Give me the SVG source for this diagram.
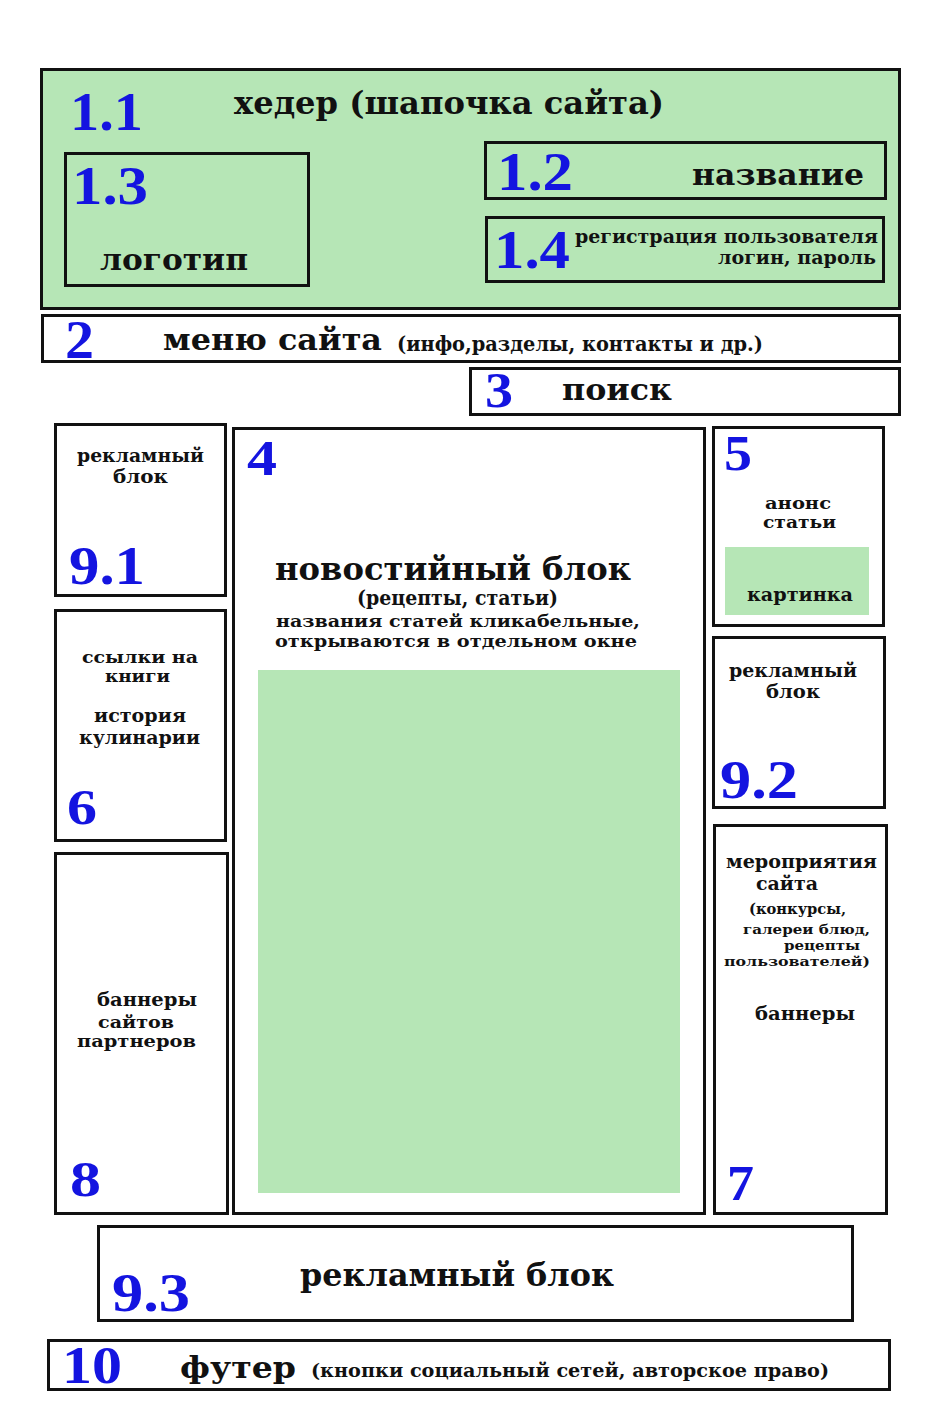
<svg xmlns="http://www.w3.org/2000/svg" width="935" height="1402" viewBox="0 0 935 1402">
<style>
.box{fill:#ffffff;stroke:#111;stroke-width:3}
.gbox{fill:#b6e6b6;stroke:#111;stroke-width:3}
.green{fill:#b6e6b6}
.num{font-family:"Liberation Serif","DejaVu Serif",serif;font-weight:bold;fill:#1414e0}
.t{font-family:"DejaVu Serif","Liberation Serif",serif;font-weight:bold;fill:#111}
</style>
<rect width="935" height="1402" fill="#ffffff"/>
<g id="header">
<rect class="gbox" x="41.5" y="69.5" width="858" height="239"/>
<text class="num" x="70" y="130" font-size="54" textLength="73" lengthAdjust="spacingAndGlyphs">1.1</text>
<text class="t" x="234" y="114" font-size="31" textLength="430" lengthAdjust="spacingAndGlyphs">хедер (шапочка сайта)</text>
</g>
<g id="logo">
<rect class="gbox" x="65.5" y="153.5" width="243" height="132"/>
<text class="num" x="72" y="204" font-size="54" textLength="76" lengthAdjust="spacingAndGlyphs">1.3</text>
<text class="t" x="100" y="270" font-size="30" textLength="148" lengthAdjust="spacingAndGlyphs">логотип</text>
</g>
<g id="name">
<rect class="gbox" x="485.5" y="142.5" width="400" height="56"/>
<text class="num" x="497" y="190" font-size="54" textLength="76" lengthAdjust="spacingAndGlyphs">1.2</text>
<text class="t" x="692" y="185" font-size="30" textLength="172" lengthAdjust="spacingAndGlyphs">название</text>
</g>
<g id="login">
<rect class="gbox" x="486.5" y="217.5" width="397" height="64"/>
<text class="num" x="494" y="268" font-size="54" textLength="76" lengthAdjust="spacingAndGlyphs">1.4</text>
<text class="t" x="575" y="243" font-size="19" textLength="303" lengthAdjust="spacingAndGlyphs">регистрация пользователя</text>
<text class="t" x="876" y="264" font-size="19" text-anchor="end" textLength="158" lengthAdjust="spacingAndGlyphs">логин, пароль</text>
</g>
<g id="menu">
<rect class="box" x="42.5" y="315.5" width="857" height="46"/>
<text class="num" x="65" y="358" font-size="54" textLength="29" lengthAdjust="spacingAndGlyphs">2</text>
<text class="t" x="163" y="350" font-size="30" textLength="219" lengthAdjust="spacingAndGlyphs">меню сайта</text>
<text class="t" x="397" y="351" font-size="20" textLength="366" lengthAdjust="spacingAndGlyphs">(инфо,разделы, контакты и др.)</text>
</g>
<g id="search">
<rect class="box" x="470.5" y="368.5" width="429" height="46"/>
<text class="num" x="485" y="407" font-size="50" textLength="28" lengthAdjust="spacingAndGlyphs">3</text>
<text class="t" x="562" y="400" font-size="30" textLength="110" lengthAdjust="spacingAndGlyphs">поиск</text>
</g>
<g id="ad1">
<rect class="box" x="55.5" y="424.5" width="170" height="171"/>
<text class="t" x="77" y="462" font-size="18" textLength="127" lengthAdjust="spacingAndGlyphs">рекламный</text>
<text class="t" x="113" y="483" font-size="18" textLength="55" lengthAdjust="spacingAndGlyphs">блок</text>
<text class="num" x="69" y="584" font-size="54" textLength="76" lengthAdjust="spacingAndGlyphs">9.1</text>
</g>
<g id="links">
<rect class="box" x="55.5" y="610.5" width="170" height="230"/>
<text class="t" x="82" y="663" font-size="16.5" textLength="116" lengthAdjust="spacingAndGlyphs">ссылки на</text>
<text class="t" x="105" y="682" font-size="16.5" textLength="65" lengthAdjust="spacingAndGlyphs">книги</text>
<text class="t" x="94" y="722" font-size="18" textLength="92" lengthAdjust="spacingAndGlyphs">история</text>
<text class="t" x="79" y="744" font-size="18" textLength="121" lengthAdjust="spacingAndGlyphs">кулинарии</text>
<text class="num" x="67" y="824" font-size="50" textLength="30" lengthAdjust="spacingAndGlyphs">6</text>
</g>
<g id="partners">
<rect class="box" x="55.5" y="853.5" width="172" height="360"/>
<text class="t" x="97" y="1006" font-size="19" textLength="100" lengthAdjust="spacingAndGlyphs">баннеры</text>
<text class="t" x="98" y="1028" font-size="16.5" textLength="76" lengthAdjust="spacingAndGlyphs">сайтов</text>
<text class="t" x="77" y="1047" font-size="16.5" textLength="119" lengthAdjust="spacingAndGlyphs">партнеров</text>
<text class="num" x="70" y="1196" font-size="50" textLength="31" lengthAdjust="spacingAndGlyphs">8</text>
</g>
<g id="news">
<rect class="box" x="233.5" y="428.5" width="471" height="785"/>
<text class="num" x="247" y="475" font-size="50" textLength="30" lengthAdjust="spacingAndGlyphs">4</text>
<text class="t" x="275" y="580" font-size="31" textLength="356" lengthAdjust="spacingAndGlyphs">новостийный блок</text>
<text class="t" x="357" y="605" font-size="20" textLength="201" lengthAdjust="spacingAndGlyphs">(рецепты, статьи)</text>
<text class="t" x="276" y="627" font-size="17" textLength="364" lengthAdjust="spacingAndGlyphs">названия статей кликабельные,</text>
<text class="t" x="275" y="647" font-size="17" textLength="362" lengthAdjust="spacingAndGlyphs">открываются в отдельном окне</text>
<rect class="green" x="258" y="670" width="422" height="523"/>
</g>
<g id="announce">
<rect class="box" x="713.5" y="427.5" width="170" height="198"/>
<text class="num" x="724" y="470" font-size="50" textLength="28" lengthAdjust="spacingAndGlyphs">5</text>
<text class="t" x="765" y="509" font-size="16.5" textLength="66" lengthAdjust="spacingAndGlyphs">анонс</text>
<text class="t" x="763" y="528" font-size="16.5" textLength="73" lengthAdjust="spacingAndGlyphs">статьи</text>
<rect class="green" x="725" y="547" width="144" height="68"/>
<text class="t" x="747" y="601" font-size="19" textLength="106" lengthAdjust="spacingAndGlyphs">картинка</text>
</g>
<g id="ad2">
<rect class="box" x="713.5" y="637.5" width="171" height="170"/>
<text class="t" x="729" y="677" font-size="18" textLength="128" lengthAdjust="spacingAndGlyphs">рекламный</text>
<text class="t" x="766" y="698" font-size="18" textLength="54" lengthAdjust="spacingAndGlyphs">блок</text>
<text class="num" x="720" y="798" font-size="54" textLength="78" lengthAdjust="spacingAndGlyphs">9.2</text>
</g>
<g id="events">
<rect class="box" x="714.5" y="825.5" width="172" height="388"/>
<text class="t" x="726" y="868" font-size="18" textLength="151" lengthAdjust="spacingAndGlyphs">мероприятия</text>
<text class="t" x="756" y="890" font-size="18" textLength="62" lengthAdjust="spacingAndGlyphs">сайта</text>
<text class="t" x="749" y="914" font-size="15" textLength="97" lengthAdjust="spacingAndGlyphs">(конкурсы,</text>
<text class="t" x="743" y="934" font-size="13.5" textLength="127" lengthAdjust="spacingAndGlyphs">галереи блюд,</text>
<text class="t" x="784" y="950" font-size="13.5" textLength="76" lengthAdjust="spacingAndGlyphs">рецепты</text>
<text class="t" x="724" y="966" font-size="13.5" textLength="146" lengthAdjust="spacingAndGlyphs">пользователей)</text>
<text class="t" x="755" y="1020" font-size="19" textLength="100" lengthAdjust="spacingAndGlyphs">баннеры</text>
<text class="num" x="727" y="1200" font-size="50" textLength="27" lengthAdjust="spacingAndGlyphs">7</text>
</g>
<g id="ad3">
<rect class="box" x="98.5" y="1226.5" width="754" height="94"/>
<text class="num" x="112" y="1311" font-size="54" textLength="78" lengthAdjust="spacingAndGlyphs">9.3</text>
<text class="t" x="300" y="1286" font-size="31" textLength="314" lengthAdjust="spacingAndGlyphs">рекламный блок</text>
</g>
<g id="footer">
<rect class="box" x="48.5" y="1340.5" width="841" height="49"/>
<text class="num" x="62" y="1383" font-size="52" textLength="60" lengthAdjust="spacingAndGlyphs">10</text>
<text class="t" x="180" y="1378" font-size="30" textLength="116" lengthAdjust="spacingAndGlyphs">футер</text>
<text class="t" x="311" y="1377" font-size="19" textLength="518" lengthAdjust="spacingAndGlyphs">(кнопки социальный сетей, авторское право)</text>
</g>
<g id="connectors"></g>
</svg>
